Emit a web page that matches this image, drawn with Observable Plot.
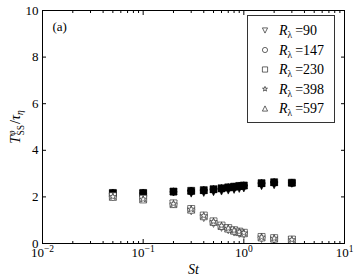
<!DOCTYPE html>
<html><head><meta charset="utf-8">
<script src="https://cdn.jsdelivr.net/npm/d3@7"></script>
<script src="https://cdn.jsdelivr.net/npm/@observablehq/plot@0.6"></script>
<style>body{margin:0;background:#fff}#chart{position:relative;width:360px;height:279px}</style>
</head><body><div id="chart"></div>
<script>
const St = [0.05, 0.1, 0.2, 0.3, 0.4, 0.5, 0.6, 0.7, 0.8, 0.9, 1.0, 1.5, 2, 3];
const Re = [90, 147, 230, 398, 597];
const filled90  = [2.13, 2.14, 2.20, 2.14, 2.17, 2.20, 2.23, 2.27, 2.30, 2.34, 2.36, 2.46, 2.50, 2.56];
const filled147 = [2.16, 2.16, 2.22, 2.25, 2.28, 2.32, 2.36, 2.40, 2.43, 2.46, 2.48, 2.58, 2.62, 2.60];
const filled230 = [2.17, 2.17, 2.23, 2.26, 2.29, 2.33, 2.37, 2.41, 2.44, 2.47, 2.49, 2.59, 2.63, 2.61];
const filled398 = [2.15, 2.16, 2.22, 2.25, 2.28, 2.31, 2.35, 2.39, 2.42, 2.45, 2.47, 2.57, 2.61, 2.59];
const filled597 = [2.18, 2.18, 2.24, 2.27, 2.30, 2.34, 2.38, 2.42, 2.45, 2.48, 2.50, 2.60, 2.64, 2.62];
const open90  = [2.00, 1.90, 1.70, 1.38, 1.09, 0.84, 0.67, 0.57, 0.47, 0.41, 0.36, 0.19, 0.14, 0.15];
const open147 = [2.02, 1.91, 1.71, 1.47, 1.19, 0.94, 0.76, 0.66, 0.56, 0.50, 0.45, 0.27, 0.22, 0.16];
const open230 = [2.03, 1.92, 1.72, 1.48, 1.20, 0.95, 0.77, 0.66, 0.57, 0.51, 0.46, 0.28, 0.23, 0.17];
const open398 = [2.01, 1.90, 1.70, 1.47, 1.19, 0.94, 0.76, 0.65, 0.56, 0.50, 0.45, 0.27, 0.22, 0.16];
const open597 = [2.00, 1.89, 1.69, 1.45, 1.17, 0.93, 0.75, 0.64, 0.55, 0.49, 0.44, 0.26, 0.21, 0.15];
const legendLabels = ["90", "147", "230", "398", "597"];
const xTicks = [0.01, 0.1, 1, 10];
const xTickLabels = ["10^−2", "10^−1", "10^0", "10^1"];
const xMinor = [0.02,0.03,0.04,0.05,0.06,0.07,0.08,0.09,0.2,0.3,0.4,0.5,0.6,0.7,0.8,0.9,2,3,4,5,6,7,8,9];
const yTicks = [0, 2, 4, 6, 8, 10];

const FONT = "'Liberation Serif', 'DejaVu Serif', serif";

// symbols with equal extents (matplotlib-like): extent = 2r, r = sqrt(size/π)
const rad = size => Math.sqrt(size / Math.PI);
const triangleDown = {draw(c, size) { const r = rad(size); c.moveTo(0, r); c.lineTo(-r, -r); c.lineTo(r, -r); c.closePath(); }};
const triangleUp = {draw(c, size) { const r = rad(size); c.moveTo(0, -r); c.lineTo(-r, r); c.lineTo(r, r); c.closePath(); }};
const square = {draw(c, size) { const r = rad(size); c.rect(-r, -r, 2 * r, 2 * r); }};
const circle = {draw(c, size) { const r = rad(size); c.moveTo(r, 0); c.arc(0, 0, r, 0, 2 * Math.PI); c.closePath(); }};
const star = {draw(c, size) {
  const R = rad(size), ri = R * 0.381966;
  for (let k = 0; k < 10; ++k) {
    const a = -Math.PI / 2 + k * Math.PI / 5, rr = k % 2 ? ri : R;
    const px = rr * Math.cos(a), py = rr * Math.sin(a);
    k ? c.lineTo(px, py) : c.moveTo(px, py);
  }
  c.closePath();
}};
const symbols = [triangleDown, circle, square, star, triangleUp];
const filledSeries = [filled90, filled147, filled230, filled398, filled597];
const openSeries = [open90, open147, open230, open398, open597];
const drawOrder = [0, 1, 2, 4, 3];

const rows = (vals, i) => St.map((s, j) => ({St: s, v: vals[j], Re: Re[i]}));
const labelMap = new Map(xTicks.map((t, i) => [t, xTickLabels[i]]));

const marks = [];
for (const i of drawOrder) {
  marks.push(Plot.dot(rows(filledSeries[i], i), {x: "St", y: "v", symbol: symbols[i], r: 3.5, fill: "black", stroke: "black", strokeWidth: 0.6}));
}
for (const i of drawOrder) {
  marks.push(Plot.dot(rows(openSeries[i], i), {x: "St", y: "v", symbol: symbols[i], r: 3.5, fill: "white", stroke: "#222", strokeWidth: 0.6}));
}

const plot = Plot.plot({
  width: 360, height: 279,
  marginLeft: 42, marginRight: 16, marginTop: 10, marginBottom: 36,
  style: {fontFamily: FONT, fontSize: "13px", color: "black", background: "white"},
  x: {type: "log", domain: [0.01, 10]},
  y: {domain: [0, 10]},
  marks: [
    Plot.axisX(xTicks, {anchor: "bottom", tickSize: -4, tickFormat: () => "", label: null}),
    Plot.axisX(xMinor, {anchor: "bottom", tickSize: -2, tickFormat: () => "", label: null}),
    Plot.axisX(xTicks, {anchor: "top", tickSize: -4, tickFormat: () => "", label: null}),
    Plot.axisX(xMinor, {anchor: "top", tickSize: -2, tickFormat: () => "", label: null}),
    Plot.axisX(xTicks, {anchor: "bottom", tickSize: 0, tickPadding: 4, tickFormat: d => labelMap.get(d), label: null, fontSize: 13, fontFamily: FONT}),
    Plot.axisY(yTicks, {anchor: "left", tickSize: -4, tickPadding: 8, tickFormat: d => String(d), label: null, fontSize: 13, fontFamily: FONT}),
    Plot.axisY(yTicks, {anchor: "right", tickSize: -4, tickFormat: () => "", label: null}),
    ...marks,
    Plot.frame({stroke: "black", strokeWidth: 1}),
    Plot.text(["(a)"], {frameAnchor: "top-left", text: d => d, dx: 10, dy: 11, textAnchor: "start", lineAnchor: "top", fontSize: 13, fontFamily: FONT}),
    Plot.text(["St"], {frameAnchor: "bottom", text: d => d, dy: 30, lineAnchor: "bottom", fontSize: 14, fontStyle: "italic", fontFamily: FONT})
  ]
});

const svg = d3.select(plot);
svg.selectAll('g[aria-label="x-axis tick label"] text').each(function() {
  const t = this.textContent;
  if (t.includes("^")) {
    const [base, exp] = t.split("^");
    const sel = d3.select(this);
    sel.text(null);
    sel.append("tspan").text(base);
    sel.append("tspan").attr("dy", "-0.45em").attr("font-size", "9.5px").text(exp);
  }
});
// y label
const yl = svg.append("text")
  .attr("transform", "translate(20,127) rotate(-90)")
  .attr("text-anchor", "middle")
  .attr("font-size", "14px")
  .attr("font-family", FONT);
yl.append("tspan").attr("font-style", "italic").text("T");
yl.append("tspan").attr("font-size", "9.5px").attr("dy", "-5").attr("font-style", "italic").text("φ");
yl.append("tspan").attr("font-size", "9.5px").attr("dx", "-5").attr("dy", "9").text("SS");
yl.append("tspan").attr("dy", "-4").attr("dx", "1").text("/");
yl.append("tspan").attr("font-style", "italic").text("τ");
yl.append("tspan").attr("font-size", "9.5px").attr("dy", "3").attr("font-style", "italic").text("η");

// legend
const lg = svg.append("g");
lg.append("rect").attr("x", 247.5).attr("y", 15.5).attr("width", 87).attr("height", 107)
  .attr("fill", "white").attr("stroke", "#333").attr("stroke-width", 1);
Re.forEach((r, i) => {
  const cy = 30.5 + i * 19.5;
  lg.append("path").attr("transform", `translate(265,${cy})`)
    .attr("d", d3.symbol(symbols[i], Math.PI * 2.6 * 2.6)())
    .attr("fill", "white").attr("stroke", "black").attr("stroke-width", 0.6);
  const t = lg.append("text").attr("x", 279).attr("y", cy + 4.5).attr("text-anchor", "start")
    .attr("font-size", "14px").attr("font-family", FONT);
  t.append("tspan").attr("font-style", "italic").text("R");
  t.append("tspan").attr("font-size", "9.5px").attr("dy", "3").text("λ");
  t.append("tspan").attr("dy", "-3").attr("dx", "3").text("=" + legendLabels[i]);
});

document.getElementById("chart").appendChild(plot);
</script>
</body></html>
